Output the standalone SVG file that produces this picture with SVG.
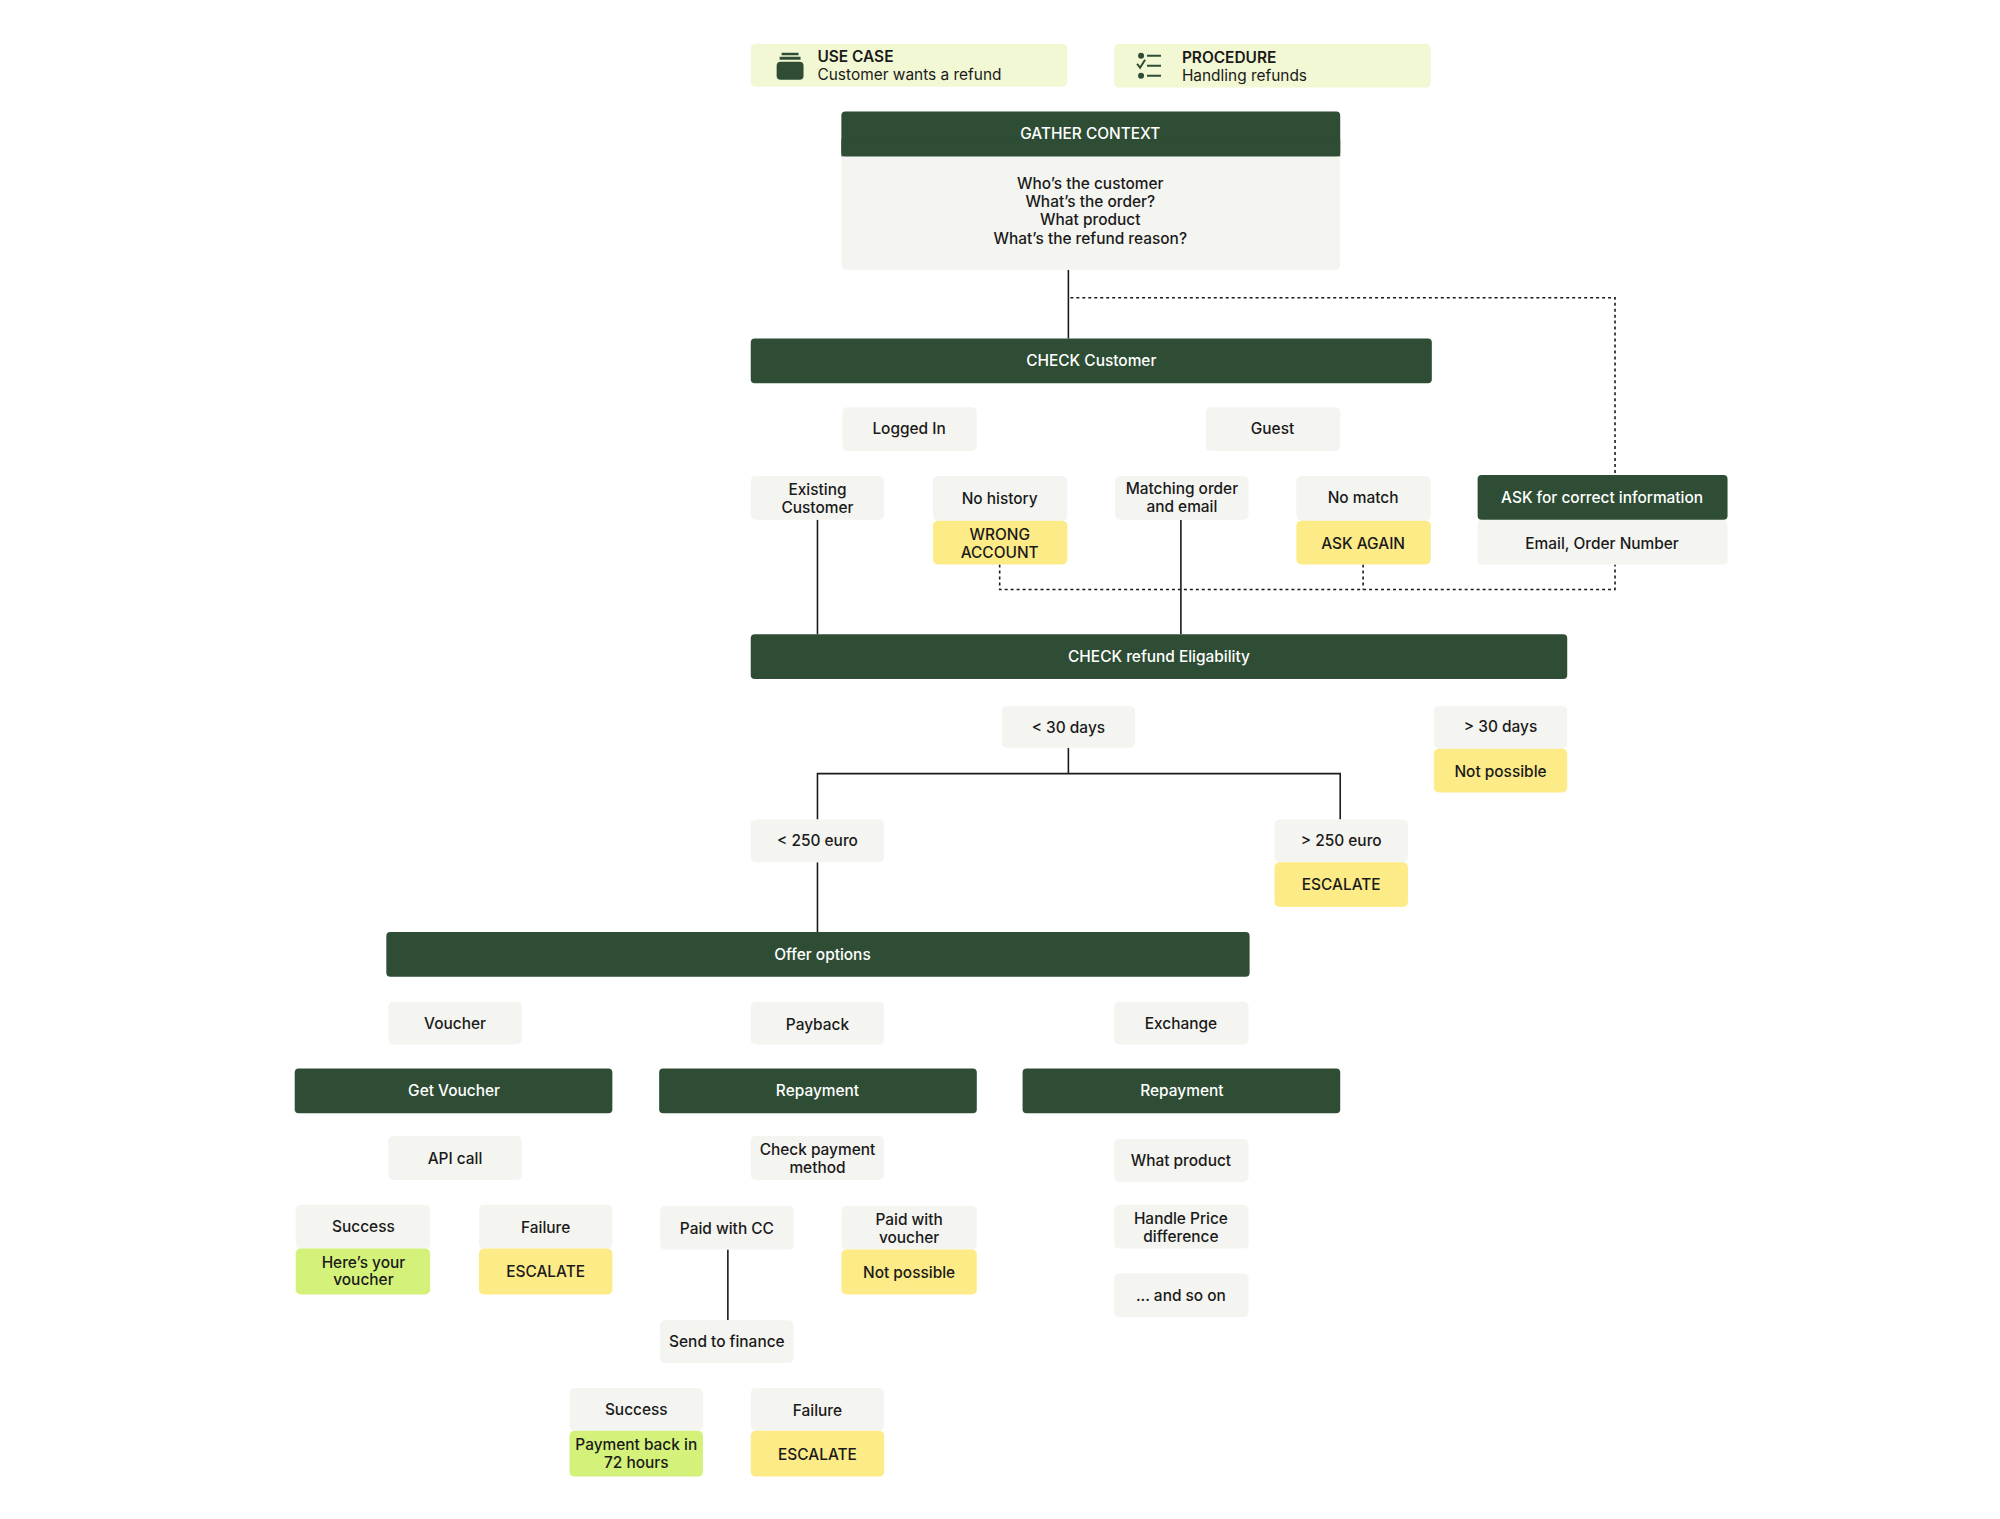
<svg xmlns="http://www.w3.org/2000/svg" width="2000" height="1519" viewBox="0 0 2000 1519">
<style>
text{font-family:Inter,"Open Sans","Liberation Sans",sans-serif;font-size:15.5px;font-weight:500;fill:#1a1a1a;text-anchor:middle}
.hd{fill:#2e4d34}
.w{fill:#fff}
.g{fill:#f4f4f0}
.y{fill:#fdeb87}
.l{fill:#d4f27a}
.t{fill:#f2f8d4}
.s{stroke:#1a1a1a;stroke-width:1.6;fill:none}
.d{stroke:#1a1a1a;stroke-width:1.6;fill:none;stroke-dasharray:3 3}
.lt{text-anchor:start}
</style>
<rect width="2000" height="1519" fill="#fff"/>
<g transform="scale(0.9957)">
<g id="connectors">
<path class="s" d="M1073 271V340"/>
<path class="d" d="M1075 299H1622V477"/>
<path class="d" d="M1004 567V592H1622V567M1369 567V592"/>
<path class="s" d="M821 522V637M1186 522V637"/>
<path class="s" d="M1073 751V777M821 823V777H1346V823"/>
<path class="s" d="M821 866V936"/>
<path class="s" d="M731 1255V1326"/>
</g>
<g id="usecase"><rect class="t" x="754" y="44" width="318" height="43" rx="5"/>
<rect x="780" y="62" width="27" height="18" rx="4" fill="#2e4d34"/><rect x="783" y="57" width="21" height="3" fill="#2e4d34"/><rect x="785" y="53" width="17" height="2.5" fill="#2e4d34"/>
<text class="lt" x="821" y="62" style="font-weight:600">USE CASE</text><text class="lt" x="821" y="80" style="font-weight:400">Customer wants a refund</text></g>
<g id="procedure"><rect class="t" x="1119" y="44" width="318" height="44" rx="5"/>
<circle cx="1146" cy="56" r="3" fill="#2e4d34"/><circle cx="1146" cy="76" r="3" fill="#2e4d34"/>
<path d="M1152 56H1166M1152 66H1166M1152 76H1166M1142 64l3 4 5-8" stroke="#2e4d34" stroke-width="2" fill="none"/>
<text class="lt" x="1187" y="63" style="font-weight:600">PROCEDURE</text><text class="lt" x="1187" y="81" style="font-weight:400">Handling refunds</text></g>
<g id="gather"><rect class="g" x="845" y="112" width="501" height="159" rx="5"/><rect class="hd" x="845" y="112" width="501" height="45" rx="4"/><rect class="hd" x="845" y="140" width="501" height="17"/>
<text class="w" x="1095" y="140">GATHER CONTEXT</text>
<text x="1095" y="190">Who’s the customer</text><text x="1095" y="208">What’s the order?</text><text x="1095" y="226">What product</text><text x="1095" y="245">What’s the refund reason?</text></g>
<g id="checkcust"><rect class="hd" x="754" y="340" width="684" height="45" rx="4"/><text class="w" x="1096" y="368">CHECK Customer</text></g>
<g id="loggedin"><rect class="g" x="846" y="409" width="135" height="44" rx="5"/><text x="913" y="436">Logged In</text></g>
<g id="guest"><rect class="g" x="1211" y="409" width="135" height="44" rx="5"/><text x="1278" y="436">Guest</text></g>
<g id="existing"><rect class="g" x="754" y="478" width="134" height="44" rx="5"/><text x="821" y="497">Existing</text><text x="821" y="515">Customer</text></g>
<g id="nohistory"><rect class="g" x="937" y="478" width="135" height="45" rx="5"/><text x="1004" y="506">No history</text>
<rect class="y" x="937" y="523" width="135" height="44" rx="5"/><text x="1004" y="542">WRONG</text><text x="1004" y="560">ACCOUNT</text></g>
<g id="matching"><rect class="g" x="1120" y="478" width="134" height="44" rx="5"/><text x="1187" y="496">Matching order</text><text x="1187" y="514">and email</text></g>
<g id="nomatch"><rect class="g" x="1302" y="478" width="135" height="45" rx="5"/><text x="1369" y="505">No match</text>
<rect class="y" x="1302" y="523" width="135" height="44" rx="5"/><text x="1369" y="551">ASK AGAIN</text></g>
<g id="ask"><rect class="g" x="1484" y="522" width="251" height="45" rx="4"/><rect class="hd" x="1484" y="477" width="251" height="45" rx="4"/><text class="w" x="1609" y="505">ASK for correct information</text>
<text x="1609" y="551">Email, Order Number</text></g>
<g id="eligibility"><rect class="hd" x="754" y="637" width="820" height="45" rx="4"/><text class="w" x="1164" y="665">CHECK refund Eligability</text></g>
<g id="lt30"><rect class="g" x="1006" y="709" width="134" height="42" rx="5"/><text x="1073" y="736">&lt; 30 days</text></g>
<g id="gt30"><rect class="g" x="1440" y="709" width="134" height="43" rx="5"/><text x="1507" y="735">&gt; 30 days</text>
<rect class="y" x="1440" y="752" width="134" height="44" rx="5"/><text x="1507" y="780">Not possible</text></g>
<g id="lt250"><rect class="g" x="754" y="823" width="134" height="43" rx="5"/><text x="821" y="850">&lt; 250 euro</text></g>
<g id="gt250"><rect class="g" x="1280" y="823" width="134" height="43" rx="5"/><text x="1347" y="850">&gt; 250 euro</text>
<rect class="y" x="1280" y="866" width="134" height="45" rx="5"/><text x="1347" y="894">ESCALATE</text></g>
<g id="offer"><rect class="hd" x="388" y="936" width="867" height="45" rx="4"/><text class="w" x="826" y="964">Offer options</text></g>
<g id="voucher"><rect class="g" x="390" y="1006" width="134" height="43" rx="5"/><text x="457" y="1033">Voucher</text></g>
<g id="payback"><rect class="g" x="754" y="1006" width="134" height="43" rx="5"/><text x="821" y="1034">Payback</text></g>
<g id="exchange"><rect class="g" x="1119" y="1006" width="135" height="43" rx="5"/><text x="1186" y="1033">Exchange</text></g>
<g id="getvoucher"><rect class="hd" x="296" y="1073" width="319" height="45" rx="4"/><text class="w" x="456" y="1101">Get Voucher</text></g>
<g id="repay1"><rect class="hd" x="662" y="1073" width="319" height="45" rx="4"/><text class="w" x="821" y="1101">Repayment</text></g>
<g id="repay2"><rect class="hd" x="1027" y="1073" width="319" height="45" rx="4"/><text class="w" x="1187" y="1101">Repayment</text></g>
<g id="api"><rect class="g" x="390" y="1141" width="134" height="44" rx="5"/><text x="457" y="1169">API call</text></g>
<g id="checkpay"><rect class="g" x="754" y="1141" width="134" height="44" rx="5"/><text x="821" y="1160">Check payment</text><text x="821" y="1178">method</text></g>
<g id="whatproduct"><rect class="g" x="1119" y="1144" width="135" height="43" rx="5"/><text x="1186" y="1171">What product</text></g>
<g id="success1"><rect class="g" x="297" y="1210" width="135" height="44" rx="5"/><text x="365" y="1237">Success</text>
<rect class="l" x="297" y="1254" width="135" height="46" rx="5"/><text x="365" y="1273">Here’s your</text><text x="365" y="1291">voucher</text></g>
<g id="failure1"><rect class="g" x="481" y="1210" width="134" height="44" rx="5"/><text x="548" y="1238">Failure</text>
<rect class="y" x="481" y="1254" width="134" height="46" rx="5"/><text x="548" y="1283">ESCALATE</text></g>
<g id="paidcc"><rect class="g" x="663" y="1211" width="134" height="44" rx="5"/><text x="730" y="1239">Paid with CC</text></g>
<g id="paidvoucher"><rect class="g" x="845" y="1211" width="136" height="44" rx="5"/><text x="913" y="1230">Paid with</text><text x="913" y="1248">voucher</text>
<rect class="y" x="845" y="1255" width="136" height="45" rx="5"/><text x="913" y="1284">Not possible</text></g>
<g id="handleprice"><rect class="g" x="1119" y="1210" width="135" height="44" rx="5"/><text x="1186" y="1229">Handle Price</text><text x="1186" y="1247">difference</text></g>
<g id="andsoon"><rect class="g" x="1119" y="1279" width="135" height="44" rx="5"/><text x="1186" y="1307">... and so on</text></g>
<g id="sendfinance"><rect class="g" x="663" y="1326" width="134" height="43" rx="5"/><text x="730" y="1353">Send to finance</text></g>
<g id="success2"><rect class="g" x="572" y="1394" width="134" height="43" rx="5"/><text x="639" y="1421">Success</text>
<rect class="l" x="572" y="1437" width="134" height="46" rx="5"/><text x="639" y="1456">Payment back in</text><text x="639" y="1474">72 hours</text></g>
<g id="failure2"><rect class="g" x="754" y="1394" width="134" height="43" rx="5"/><text x="821" y="1422">Failure</text>
<rect class="y" x="754" y="1437" width="134" height="46" rx="5"/><text x="821" y="1466">ESCALATE</text></g>
</g>
</svg>
